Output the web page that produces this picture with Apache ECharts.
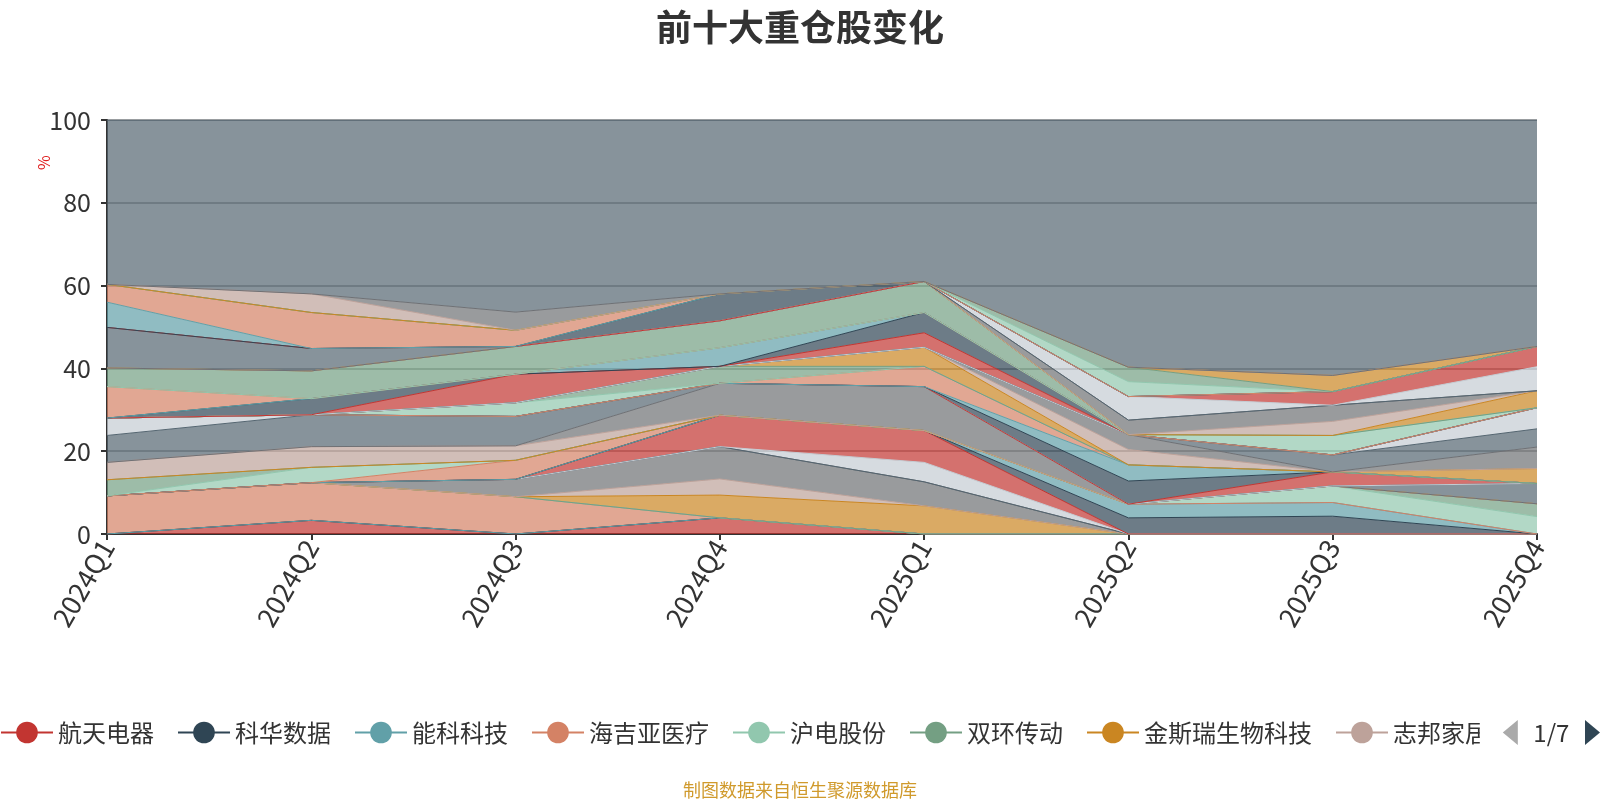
<!DOCTYPE html>
<html><head><meta charset="utf-8">
<script src="https://cdn.jsdelivr.net/npm/echarts@6/dist/echarts.min.js"></script>
<style>html,body{margin:0;padding:0;background:#fff}#chart{width:1600px;height:800px}</style>
</head><body><div id="chart"></div>
<script>
const quarters = ['2024Q1','2024Q2','2024Q3','2024Q4','2025Q1','2025Q2','2025Q3','2025Q4'];

// series order (stacking order / legend order); names after the first 8 are not visible in the reference
const stockNames = ['航天电器','科华数据','能科科技','海吉亚医疗','沪电股份','双环传动','金斯瑞生物科技','志邦家居',
  '重仓股08','重仓股09','重仓股10','重仓股11','重仓股12','重仓股13','重仓股14','重仓股15',
  '重仓股16','重仓股17','重仓股18','重仓股19','重仓股20','重仓股21','重仓股22','重仓股23',
  '重仓股24','重仓股25','重仓股26','重仓股27','重仓股28','重仓股29','重仓股30','重仓股31',
  '重仓股32','重仓股33','重仓股34','重仓股35','重仓股36','重仓股37','重仓股38','重仓股39',
  '重仓股40','重仓股41','重仓股42','重仓股43','重仓股44','重仓股45','重仓股46','重仓股47',
  '重仓股48','重仓股49','重仓股50','重仓股51','重仓股52'];
const otherName = '其他';

// top-10 holdings per quarter (% of NAV)
const top2024Q1 = [['海吉亚医疗',9.2],['重仓股16',3.9],['重仓股18',4.2],['重仓股20',6.5],['重仓股21',4.2],['重仓股36',7.6],['重仓股38',4.5],['重仓股42',9.8],['重仓股46',6.1],['重仓股47',4.3]];
const top2024Q2 = [['航天电器',3.3],['海吉亚医疗',9.1],['重仓股15',3.7],['重仓股18',5.0],['重仓股20',7.7],['重仓股34',3.9],['重仓股38',6.7],['重仓股42',5.4],['重仓股47',8.7],['重仓股51',4.5]];
const top2024Q3 = [['海吉亚医疗',9.0],['重仓股08',4.2],['重仓股14',4.6],['重仓股18',3.5],['重仓股20',7.1],['重仓股26',3.3],['重仓股33',6.9],['重仓股38',6.7],['重仓股47',3.9],['重仓股52',4.4]];
const top2024Q4 = [['航天电器',3.9],['金斯瑞生物科技',5.5],['志邦家居',3.9],['重仓股08',7.8],['重仓股11',7.6],['重仓股19',7.7],['重仓股27',4.1],['重仓股35',4.5],['重仓股38',6.5],['重仓股45',6.5]];
const top2025Q1 = [['金斯瑞生物科技',6.8],['重仓股08',5.8],['重仓股10',4.7],['重仓股11',7.7],['重仓股19',10.6],['重仓股25',4.9],['重仓股28',4.6],['重仓股33',3.5],['重仓股34',4.9],['重仓股38',7.5]];
const top2025Q2 = [['重仓股12',3.9],['重仓股13',3.3],['重仓股23',5.6],['重仓股24',3.9],['重仓股29',3.7],['重仓股30',3.6],['重仓股41',3.5],['重仓股43',5.7],['重仓股48',3.6],['重仓股49',3.5]];
const top2025Q3 = [['重仓股12',4.3],['重仓股13',3.3],['重仓股15',4.0],['重仓股22',3.4],['重仓股31',4.1],['重仓股37',4.7],['重仓股40',3.4],['重仓股41',3.9],['重仓股44',3.3],['重仓股50',3.9]];
const top2025Q4 = [['重仓股15',4.2],['重仓股16',3.1],['重仓股20',4.9],['重仓股28',3.6],['重仓股30',5.2],['重仓股31',4.4],['重仓股32',5.1],['重仓股39',4.1],['重仓股43',5.8],['重仓股44',4.9]];
const otherValues = [39.7, 42.0, 46.4, 42.0, 39.0, 59.7, 61.7, 54.7];

const palette = ['#c23531','#2f4554','#61a0a8','#d48265','#91c7ae','#749f83','#ca8622','#bda29a','#6e7074','#546570','#c4ccd3'];

const perQuarter = [top2024Q1, top2024Q2, top2024Q3, top2024Q4, top2025Q1, top2025Q2, top2025Q3, top2025Q4];
const lookup = perQuarter.map(list => Object.fromEntries(list));

const FONT = '"Noto Sans CJK SC", "Noto Sans", sans-serif';
function mkSeries(name, data) {
  return {
    name, type: 'line', stack: 'total', data,
    symbol: 'circle', showSymbol: false,
    lineStyle: { width: 1 },
    areaStyle: { opacity: 0.7 },
    emphasis: { disabled: true },
    silent: true
  };
}
const series = stockNames.map(n => mkSeries(n, lookup.map(m => (m[n] !== undefined ? m[n] : 0))));
series.push(mkSeries(otherName, otherValues));

const chart = echarts.init(document.getElementById('chart'), null, { renderer: 'canvas' });
chart.setOption({
  animation: false,
  color: palette,
  textStyle: { fontFamily: FONT },
  title: [
    { text: '前十大重仓股变化', left: 'center', top: 4,
      textStyle: { fontSize: 36, fontWeight: 'bold', color: '#333', fontFamily: FONT } },
    { text: '制图数据来自恒生聚源数据库', left: 'center', top: 776,
      textStyle: { fontSize: 18, fontWeight: 'normal', color: '#d09a2c', fontFamily: FONT } }
  ],
  graphic: [
    { type: 'text', x: 36, y: 170, rotation: Math.PI / 2,
      style: { text: '%', fill: '#e02020', font: '16px ' + FONT } }
  ],
  legend: {
    type: 'scroll', orient: 'horizontal', left: 0, right: 0, top: 720, padding: 0,
    itemWidth: 52, itemHeight: 27, itemGap: 23,
    textStyle: { fontSize: 24, color: '#333', fontFamily: FONT },
    pageIconColor: '#2f4554', pageIconInactiveColor: '#aaa', pageIconSize: [15, 30],
    pageTextStyle: { fontSize: 24, color: '#333', fontFamily: FONT },
    data: stockNames.concat([otherName])
  },
  grid: { left: 107, right: 63, top: 120, bottom: 266, containLabel: false },
  xAxis: {
    type: 'category', data: quarters, boundaryGap: false,
    axisLine: { lineStyle: { color: '#333', width: 2 } },
    axisTick: { show: true, length: 6, lineStyle: { color: '#333', width: 2 } },
    axisLabel: { rotate: 60, fontSize: 27, color: '#333', margin: 8, fontFamily: FONT },
    splitLine: { show: false }
  },
  yAxis: {
    type: 'value', min: 0, max: 100, interval: 20,
    axisLine: { show: true, lineStyle: { color: '#333', width: 2 } },
    axisTick: { show: true, length: 6, lineStyle: { color: '#333', width: 2 } },
    axisLabel: { fontSize: 25, color: '#333', margin: 16, fontFamily: FONT },
    splitLine: { show: true, lineStyle: { color: '#b0b0b0', width: 2 } }
  },
  series
});
</script></body></html>
